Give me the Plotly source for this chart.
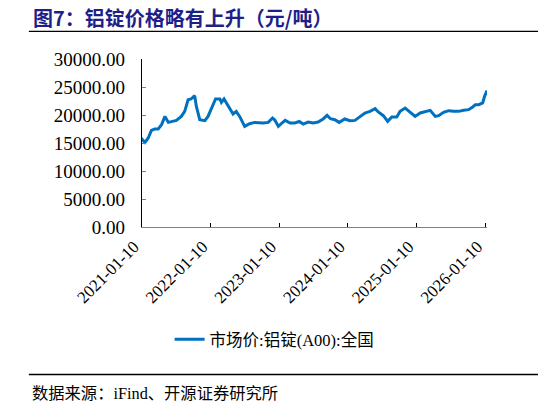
import plotly.graph_objects as go

# values (元/吨)
dates = [
    "2021-01-04", "2021-01-26", "2021-02-12", "2021-03-01", "2021-03-19", "2021-04-06",
    "2021-04-24", "2021-05-12", "2021-05-30", "2021-06-20", "2021-07-12", "2021-08-07",
    "2021-08-25", "2021-09-12", "2021-09-28", "2021-10-17", "2021-10-26", "2021-11-13",
    "2021-12-10", "2021-12-27", "2022-01-15", "2022-01-22", "2022-02-05", "2022-02-28",
    "2022-03-08", "2022-03-22", "2022-04-12", "2022-05-09", "2022-05-26", "2022-06-13",
    "2022-07-10", "2022-08-05", "2022-09-01", "2022-10-17", "2022-11-12", "2022-12-05",
    "2022-12-17", "2023-01-05", "2023-01-24", "2023-02-10", "2023-03-08", "2023-04-03",
    "2023-04-26", "2023-05-17", "2023-06-12", "2023-07-09", "2023-08-04", "2023-08-31",
    "2023-09-21", "2023-10-09", "2023-11-01", "2023-11-24", "2023-12-24", "2024-01-20",
    "2024-02-16", "2024-03-14", "2024-04-09", "2024-05-06", "2024-06-02", "2024-06-19",
    "2024-07-16", "2024-08-08", "2024-08-30", "2024-09-25", "2024-10-13", "2024-11-09",
    "2024-12-05", "2025-01-01", "2025-01-28", "2025-02-24", "2025-03-22", "2025-04-18",
    "2025-05-06", "2025-06-01", "2025-06-28", "2025-07-25", "2025-08-20", "2025-09-16",
    "2025-10-12", "2025-11-03", "2025-11-17", "2025-12-05", "2025-12-26", "2026-01-05",
    "2026-01-12", "2026-01-18",
]
prices = [
    15900, 15100, 15900, 17250, 17500, 17500,
    18270, 19750, 18680, 18800, 19040, 19750,
    20650, 22730, 22860, 23450, 21540, 19160,
    18980, 19750, 21250, 21540, 22860, 22860,
    22250, 22860, 21660, 20180, 20650, 19750,
    17970, 18450, 18680, 18570, 18680, 19470,
    19100, 17970, 18570, 19040, 18570, 18570,
    18860, 18390, 18750, 18570, 18750, 19290,
    19930, 19340, 19160, 18680, 19290, 18980,
    19040, 19750, 20360, 20650, 21130, 20540,
    19880, 18860, 19650, 19650, 20650, 21250,
    20540, 19750, 20360, 20540, 20830, 19750,
    19880, 20470, 20770, 20650, 20650, 20830,
    20950, 21430, 21840, 21840, 22150, 23330,
    24040, 24340,
]
tick_dates = ["2021-01-10", "2022-01-10", "2023-01-10", "2024-01-10", "2025-01-10", "2026-01-10"]
y_ticks = [0, 5000, 10000, 15000, 20000, 25000, 30000]

serif = "Liberation Serif, Times New Roman, serif"
cjk = "Noto Sans CJK SC"

fig = go.Figure()
fig.add_trace(go.Scatter(
    x=dates, y=prices, mode="lines",
    name="市场价:铝锭(A00):全国",
    line=dict(color="#0070C0", width=3),
))

fig.update_layout(
    width=546, height=405,
    margin=dict(l=134, r=67, t=51, b=186),
    paper_bgcolor="white", plot_bgcolor="white",
    showlegend=True,
    legend=dict(
        orientation="h", x=0.08, y=-0.67, xanchor="left", yanchor="middle",
        font=dict(family=serif + ", " + cjk, size=16.5, color="black"),
    ),
)
fig.update_xaxes(
    type="date", range=["2021-01-10", "2026-01-18"],
    tickvals=tick_dates, ticktext=tick_dates, tickangle=-45,
    ticks="inside", ticklen=4, tickcolor="black",
    ticklabelstandoff=2, ticklabelshift=-8,
    showline=True, linecolor="#808080", linewidth=1.3,
    showgrid=False, zeroline=False,
    tickfont=dict(family=serif, size=17, color="black"),
)
fig.update_yaxes(
    range=[0, 30000], tickvals=y_ticks,
    tickformat=".2f",
    ticks="inside", ticklen=4, tickcolor="#808080",
    ticklabelstandoff=12,
    showline=True, linecolor="black", linewidth=1.3,
    showgrid=False, zeroline=False,
    tickfont=dict(family=serif, size=19, color="black"),
)

# title, rules and source note
fig.add_annotation(
    text="<b>图7：铝锭价格略有上升（元/吨）</b>", xref="paper", yref="paper",
    x=-0.32, y=1.25, xanchor="left", yanchor="middle", showarrow=False,
    borderpad=0,
    font=dict(family=cjk, size=20, color="#1F1F8A"),
)
fig.add_shape(type="line", xref="paper", yref="paper",
              x0=-0.328, x1=1.25, y0=1.165, y1=1.165,
              line=dict(color="black", width=1.3))
fig.add_shape(type="line", xref="paper", yref="paper",
              x0=-0.328, x1=1.25, y0=-0.878, y1=-0.878,
              line=dict(color="black", width=1.3))
fig.add_annotation(
    text="数据来源：iFind、开源证券研究所", xref="paper", yref="paper",
    x=-0.325, y=-0.99, xanchor="left", yanchor="middle", showarrow=False,
    font=dict(family=serif + ", " + cjk, size=16.3, color="black"),
)

fig.write_html("out.html")
